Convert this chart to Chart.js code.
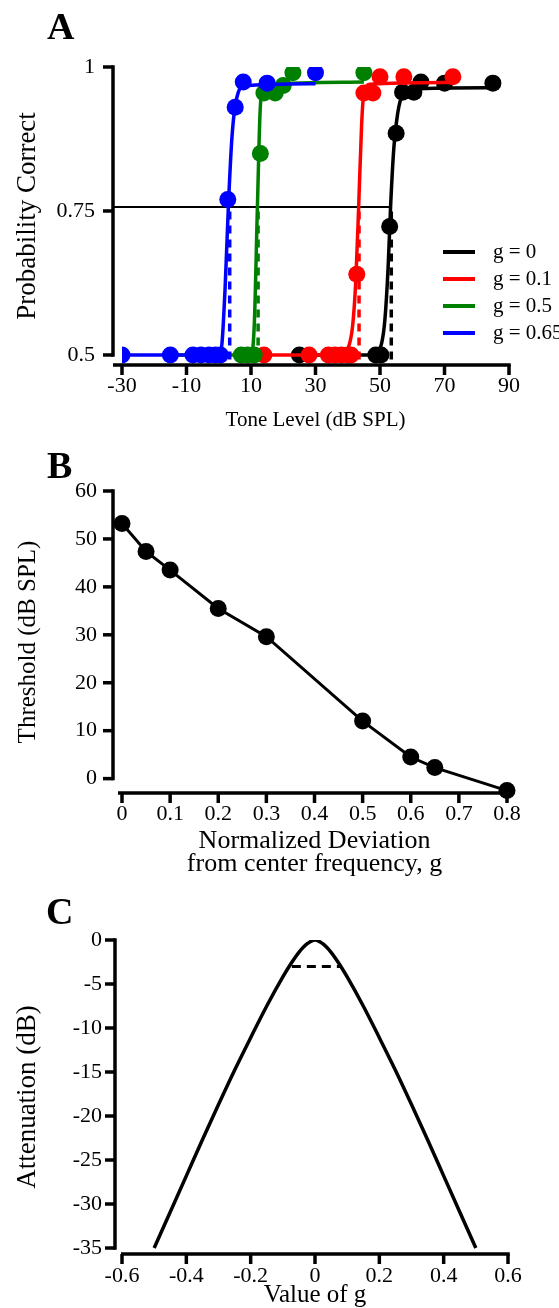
<!DOCTYPE html>
<html>
<head>
<meta charset="utf-8">
<script src="https://cdn.jsdelivr.net/npm/chart.js@4.4.1/dist/chart.umd.min.js"></script>
<style>
  body { margin: 0; background: #fff; }
  #page { position: relative; width: 559px; height: 1308px; overflow: hidden; }
  .panel { position: absolute; left: 0; }
  .letter { position: absolute; font-family: 'Liberation Serif', serif; font-weight: bold; font-size: 38px; line-height: 38px; }
</style>
</head>
<body>
<div id="page">
  <canvas id="chartA" class="panel" style="top:0px" width="559" height="440"></canvas>
  <canvas id="chartB" class="panel" style="top:440px" width="559" height="460"></canvas>
  <canvas id="chartC" class="panel" style="top:870px" width="559" height="450"></canvas>
  <div class="letter" style="left:47px;top:7px">A</div>
  <div class="letter" style="left:47px;top:446px">B</div>
  <div class="letter" style="left:46px;top:892px">C</div>
</div>
<script>
// ---- panel A: psychometric data, tone level (dB SPL) vs probability correct
const gLabels = ['g = 0', 'g = 0.1', 'g = 0.5', 'g = 0.65'];
const gColors = ['#000000', '#ff0000', '#008000', '#0000ff'];

const levelG0 = [25, 48.7, 50.3, 53, 55, 57, 60.5, 62.7, 70, 85];
const pcG0 = [0.5, 0.5, 0.5, 0.723, 0.885, 0.956, 0.956, 0.974, 0.972, 0.972];
const levelG01 = [14, 28, 34, 36, 38, 40, 41, 42.8, 45, 47.8, 50, 57.4, 72.6];
const pcG01 = [0.5, 0.5, 0.5, 0.5, 0.5, 0.5, 0.5, 0.64, 0.955, 0.955, 0.983, 0.983, 0.983];
const levelG05 = [7, 9, 11, 12.9, 14, 17.5, 20, 23, 45];
const pcG05 = [0.5, 0.5, 0.5, 0.85, 0.955, 0.955, 0.968, 0.99, 0.99];
const levelG065 = [-30, -15, -8, -5.5, -3, -1, 0.5, 2.8, 5.1, 7.6, 15, 30];
const pcG065 = [0.5, 0.5, 0.5, 0.5, 0.5, 0.5, 0.5, 0.77, 0.93, 0.974, 0.972, 0.99];

// fitted curves
const fitLevelG0 = [25, 46, 49, 50.5, 51.5, 52.5, 53.3, 54.3, 55.5, 57, 60, 85];
const fitPcG0 = [0.5, 0.5, 0.505, 0.52, 0.56, 0.65, 0.76, 0.86, 0.92, 0.952, 0.962, 0.964];
const fitLevelG01 = [14, 38, 40, 41.5, 42.5, 43.4, 44.3, 45, 47, 72.6];
const fitPcG01 = [0.5, 0.5, 0.51, 0.55, 0.63, 0.76, 0.9, 0.955, 0.97, 0.973];
const fitLevelG05 = [-15, 10, 11, 12, 12.8, 13.5, 16, 45];
const fitPcG05 = [0.5, 0.5, 0.55, 0.76, 0.92, 0.96, 0.97, 0.974];
const fitLevelG065 = [-30, 0, 1, 2, 3, 4, 5, 6, 7.5, 30];
const fitPcG065 = [0.5, 0.5, 0.52, 0.62, 0.76, 0.87, 0.93, 0.955, 0.967, 0.971];

const thresholdsA = [53.5, 43.5, 12.2, 3.4];
const criterion = 0.757;
const criterionStart = -32.5;

const tickLevels = [-30, -10, 10, 30, 50, 70, 90];
const tickPc = [0.5, 0.75, 1];

// ---- panel B: threshold vs normalized deviation
const gB = [0, 0.05, 0.1, 0.2, 0.3, 0.5, 0.6, 0.65, 0.8];
const thresholdB = [53.2, 47.4, 43.5, 35.5, 29.6, 12, 4.5, 2.3, -2.5];
const tickGB = [0, 0.1, 0.2, 0.3, 0.4, 0.5, 0.6, 0.7, 0.8];
const tickThr = [0, 10, 20, 30, 40, 50, 60];

// ---- panel C: filter shape
const gC = [-0.5, -0.45, -0.4, -0.35, -0.3, -0.25, -0.2, -0.15, -0.1, -0.075, -0.05, -0.025, 0,
            0.025, 0.05, 0.075, 0.1, 0.15, 0.2, 0.25, 0.3, 0.35, 0.4, 0.45, 0.5];
const attenC = [-35, -30.9, -26.8, -22.7, -18.7, -14.8, -11.1, -7.5, -4.2, -2.7, -1.4, -0.45, 0,
                -0.45, -1.4, -2.7, -4.2, -7.5, -11.1, -14.8, -18.7, -22.7, -26.8, -30.9, -35];
const halfPowerG = [-0.072, 0.08];
const halfPowerDb = -3;
const tickGC = [-0.6, -0.4, -0.2, 0, 0.2, 0.4, 0.6];
const tickAtt = [0, -5, -10, -15, -20, -25, -30, -35];

const serif = "'Liberation Serif', 'Times New Roman', serif";
Chart.defaults.font.family = serif;
Chart.defaults.color = '#000';
Chart.defaults.animation = false;

function pts(xs, ys) {
  return xs.map((x, i) => ({ x: x, y: ys[i] }));
}

function fmt(v) {
  return String(Math.round(v * 100) / 100);
}

// offset (detached) axes in the Prism style
const offsetAxes = {
  id: 'offsetAxes',
  afterDatasetsDraw(chart, args, opts) {
    const { ctx, scales: { x, y } } = chart;
    const line = (x1, y1, x2, y2) => {
      ctx.beginPath(); ctx.moveTo(x1, y1); ctx.lineTo(x2, y2); ctx.stroke();
    };
    ctx.save();
    ctx.strokeStyle = '#000';
    ctx.lineWidth = 3.5;
    ctx.lineCap = 'butt';
    const ax = x.left - opts.gap;
    const yt = y.ticks.map(t => y.getPixelForValue(t.value));
    line(ax, Math.min(...yt) - 1.75, ax, Math.max(...yt) + 1.75);
    yt.forEach(py => line(ax - 10, py, ax, py));
    const ay = y.bottom;
    const xt = x.ticks.map(t => x.getPixelForValue(t.value));
    line(x.left - opts.xStart, ay, Math.max(...xt) + 1.75, ay);
    xt.forEach(px => line(px, ay, px, ay + 10));
    ctx.restore();
  }
};

// legend drawn inside panel A
const insideLegend = {
  id: 'insideLegend',
  afterDraw(chart, args, opts) {
    const { ctx } = chart;
    ctx.save();
    ctx.font = '21px ' + serif;
    ctx.textBaseline = 'middle';
    opts.labels.forEach((lab, i) => {
      const yy = opts.y + i * opts.step;
      ctx.strokeStyle = opts.colors[i];
      ctx.lineWidth = 4;
      ctx.beginPath(); ctx.moveTo(opts.x, yy); ctx.lineTo(opts.x + 32, yy); ctx.stroke();
      ctx.fillStyle = '#000';
      ctx.fillText(lab, opts.x + 50, yy);
    });
    ctx.restore();
  }
};

function baseScales(o) {
  return {
    x: {
      type: 'linear', min: o.xmin, max: o.xmax,
      grid: { display: false, drawTicks: false }, border: { display: false },
      afterBuildTicks: s => { s.ticks = o.xticks.map(v => ({ value: v })); },
      afterFit: s => { s.height = o.xh; },
      ticks: { padding: o.xpad, maxRotation: 0, autoSkip: false, font: { size: 22 }, callback: v => fmt(v) },
      title: { display: true, text: o.xtitle, font: { size: o.xtsize, lineHeight: o.xtlh || 1.2 },
        padding: { top: 0, bottom: o.xtpad } }
    },
    y: {
      type: 'linear', min: o.ymin, max: o.ymax,
      grid: { display: false, drawTicks: false }, border: { display: false },
      afterBuildTicks: s => { s.ticks = o.yticks.map(v => ({ value: v })); },
      afterFit: s => { s.width = 122; },
      ticks: { padding: o.ypad, autoSkip: false, font: { size: 22 }, callback: v => fmt(v) },
      title: { display: true, text: o.ytitle, font: { size: o.ytsize }, padding: { top: o.ytpad, bottom: 0 } }
    }
  };
}

// ---------- chart A
const psychoSets = [
  [levelG0, pcG0, fitLevelG0, fitPcG0],
  [levelG01, pcG01, fitLevelG01, fitPcG01],
  [levelG05, pcG05, fitLevelG05, fitPcG05],
  [levelG065, pcG065, fitLevelG065, fitPcG065]
];
const dsA = [];
psychoSets.forEach((s, i) => {
  const c = gColors[i];
  dsA.push({ label: gLabels[i] + ' thr', data: [{ x: thresholdsA[i], y: 0.492 }, { x: thresholdsA[i], y: criterion }],
    borderColor: c, borderWidth: 3.5, borderDash: [8, 6], pointRadius: 0, showLine: true, order: 20 - i * 4 + 2 });
  dsA.push({ label: gLabels[i], data: pts(s[2], s[3]), borderColor: c, borderWidth: 3.5, pointRadius: 0,
    showLine: true, cubicInterpolationMode: 'monotone', order: 20 - i * 4 + 1 });
  dsA.push({ label: gLabels[i] + ' data', data: pts(s[0], s[1]), backgroundColor: c, borderColor: c,
    pointRadius: 8.5, pointBorderWidth: 0, showLine: false, order: 20 - i * 4 });
});
dsA.push({ label: 'criterion', data: [{ x: criterionStart, y: criterion }, { x: thresholdsA[0], y: criterion }],
  borderColor: '#000', borderWidth: 2, pointRadius: 0, showLine: true, clip: false, order: 30 });

new Chart(document.getElementById('chartA'), {
  type: 'scatter',
  data: { datasets: dsA },
  options: {
    responsive: false,
    layout: { padding: { left: 0, right: 50, top: 67, bottom: 0 } },
    plugins: {
      legend: { display: false }, tooltip: { enabled: false },
      offsetAxes: { gap: 9, xStart: 9 },
      insideLegend: { labels: gLabels, colors: gColors, x: 443, y: 252, step: 27 }
    },
    scales: baseScales({ xmin: -30, xmax: 90, ymin: 0.4826, ymax: 1, xticks: tickLevels, yticks: tickPc,
      xh: 75, xpad: 8, xtitle: 'Tone Level (dB SPL)', xtsize: 21, xtpad: 7, ypad: 27,
      ytitle: 'Probability Correct', ytsize: 27, ytpad: 12 })
  },
  plugins: [offsetAxes, insideLegend]
});

// ---------- chart B
new Chart(document.getElementById('chartB'), {
  type: 'scatter',
  data: {
    datasets: [{
      label: 'threshold', data: pts(gB, thresholdB), borderColor: '#000', backgroundColor: '#000',
      borderWidth: 3, pointRadius: 8.5, pointBorderWidth: 0, showLine: true, clip: false
    }]
  },
  options: {
    responsive: false,
    layout: { padding: { left: 0, right: 52, top: 51, bottom: 0 } },
    plugins: { legend: { display: false }, tooltip: { enabled: false }, offsetAxes: { gap: 9, xStart: 4 } },
    scales: baseScales({ xmin: 0, xmax: 0.8, ymin: -3, ymax: 60, xticks: tickGB, yticks: tickThr,
      xh: 107, xpad: 8, xtitle: ['Normalized Deviation', 'from center frequency, g'], xtsize: 26, xtlh: 0.86,
      xtpad: 25, ypad: 25, ytitle: 'Threshold (dB SPL)', ytsize: 25, ytpad: 13 })
  },
  plugins: [offsetAxes]
});

// ---------- chart C
new Chart(document.getElementById('chartC'), {
  type: 'scatter',
  data: {
    datasets: [{
      label: 'half power', data: pts(halfPowerG, [halfPowerDb, halfPowerDb]), borderColor: '#000',
      borderWidth: 3, borderDash: [9, 6], pointRadius: 0, showLine: true
    }, {
      label: 'filter', data: pts(gC, attenC), borderColor: '#000', borderWidth: 3.5, pointRadius: 0,
      showLine: true, cubicInterpolationMode: 'monotone'
    }]
  },
  options: {
    responsive: false,
    layout: { padding: { left: 0, right: 51, top: 70, bottom: 0 } },
    plugins: { legend: { display: false }, tooltip: { enabled: false }, offsetAxes: { gap: 7, xStart: 1 } },
    scales: baseScales({ xmin: -0.6, xmax: 0.6, ymin: -35.68, ymax: 0, xticks: tickGC, yticks: tickAtt,
      xh: 66, xpad: 9, xtitle: 'Value of g', xtsize: 25, xtpad: 10, ypad: 20,
      ytitle: 'Attenuation (dB)', ytsize: 27, ytpad: 12 })
  },
  plugins: [offsetAxes]
});
</script>
</body>
</html>
